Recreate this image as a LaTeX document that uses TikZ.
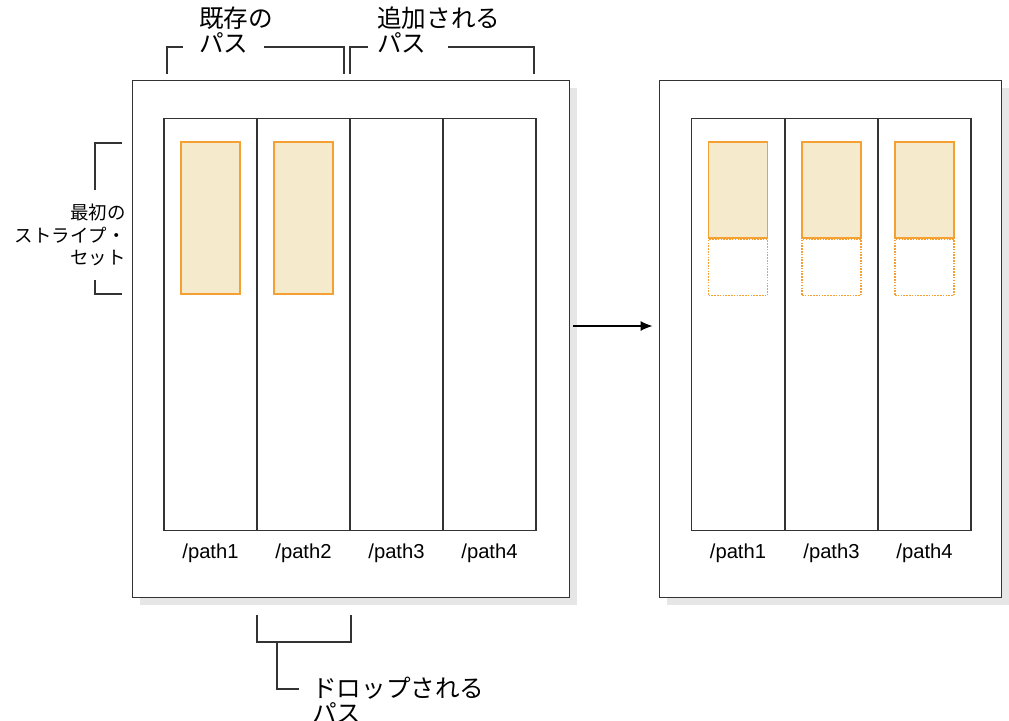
\documentclass[tikz,border=0pt]{standalone}
\usepackage{fontspec}
\setmainfont{Liberation Sans}
\newfontfamily\jfont{Noto Sans CJK JP}
\usetikzlibrary{arrows.meta,positioning,shadows}
\definecolor{stripeline}{HTML}{F5A032}
\definecolor{stripefill}{HTML}{F5EACB}
\definecolor{shadowgray}{HTML}{E6E6E6}

\begin{document}
\begin{tikzpicture}[
      x=0.02cm, y=-0.02cm,
      font=\fontsize{11.5}{13}\selectfont,
      pane/.style={draw=black!80, line width=0.6pt, fill=white, inner sep=0pt,
        minimum width=#1, minimum height=10.36cm,
        general shadow={fill=shadowgray, draw=none, shadow xshift=0.15cm, shadow yshift=-0.15cm}},
      column/.style={draw=black!80, line width=0.6pt, inner sep=0pt, minimum width=1.86cm, minimum height=8.26cm},
      stripe/.style={draw=stripeline, fill=stripefill, line width=0.8pt, inner sep=0pt, minimum width=1.18cm, minimum height=#1},
      freed/.style={draw=stripeline, dash pattern=on 0.9pt off 0.7pt, line width=0.8pt, inner sep=0pt, minimum width=1.18cm, minimum height=1.12cm},
      plabel/.style={below=1.3mm of #1},
      jtext/.style={font=\jfont\fontsize{14}{14.2}\selectfont, inner sep=0pt},
      jsmall/.style={font=\jfont\fontsize{10.5}{13}\selectfont, inner sep=0pt},
      brace/.style={draw=black!80, line width=0.6pt},
      arrow/.style={-{Latex[length=2.4mm, width=2mm]}, line width=0.6pt}
    ]
    \useasboundingbox (0,0) rectangle (1009,721);

    % Before
    \node[pane=8.76cm] (lpane) at (351,339) {};
    \node[column] (c1) at (210.5,324.5) {};
    \node[column] (c2) at (303.5,324.5) {};
    \node[column] (c3) at (396.5,324.5) {};
    \node[column] (c4) at (489.5,324.5) {};
    \node[stripe=3.04cm] (s1) at (210.5,218) {};
    \node[stripe=3.04cm] (s2) at (303.5,218) {};
    \node[plabel=c1] (p1) {/path1};
    \node[plabel=c2] (p2) {/path2};
    \node[plabel=c3] (p3) {/path3};
    \node[plabel=c4] (p4) {/path4};

    % After
    \node[pane=6.86cm] (rpane) at (830.5,339) {};
    \node[column] (d1) at (738,324.5) {};
    \node[column] (d3) at (831.5,324.5) {};
    \node[column] (d4) at (924.5,324.5) {};
    \node[stripe=1.92cm] (t1) at (738,190) {};
    \node[stripe=1.92cm] (t3) at (831.5,190) {};
    \node[stripe=1.92cm] (t4) at (924.5,190) {};
    \node[freed, below=0pt of t1] (f1) {};
    \node[freed, below=0pt of t3] (f3) {};
    \node[freed, below=0pt of t4] (f4) {};
    \node[plabel=d1] (q1) {/path1};
    \node[plabel=d3] (q3) {/path3};
    \node[plabel=d4] (q4) {/path4};

    \draw[arrow] ([shift={(0.06cm,0.26cm)}]lpane.east) -- ([shift={(-0.12cm,0.26cm)}]rpane.west);

    % Brackets
    \node[jtext, anchor=west, align=left] (old) at (199,30) {既存の\\パス};
    \draw[brace] (183,47) -| (167,74);
    \draw[brace] (264,47) -| (344,74);

    \node[jtext, anchor=west, align=left] (new) at (377,30) {追加される\\パス};
    \draw[brace] (368,47) -| (350,74);
    \draw[brace] (448,47) -| (534,74);

    \node[jsmall, anchor=east, align=right] (first) at (126,235) {最初の\\ストライプ・\\セット};
    \draw[brace] (122,143) -| (95,190);
    \draw[brace] (95,280) |- (122,294);

    \node[jtext, anchor=west, align=left] (drop) at (312,700) {ドロップされる\\パス};
    \draw[brace] (257,615) -- (257,642) -- (351,642) -- (351,615);
    \draw[brace] (277,642) |- (299,689);
  \end{tikzpicture}
\end{document}
